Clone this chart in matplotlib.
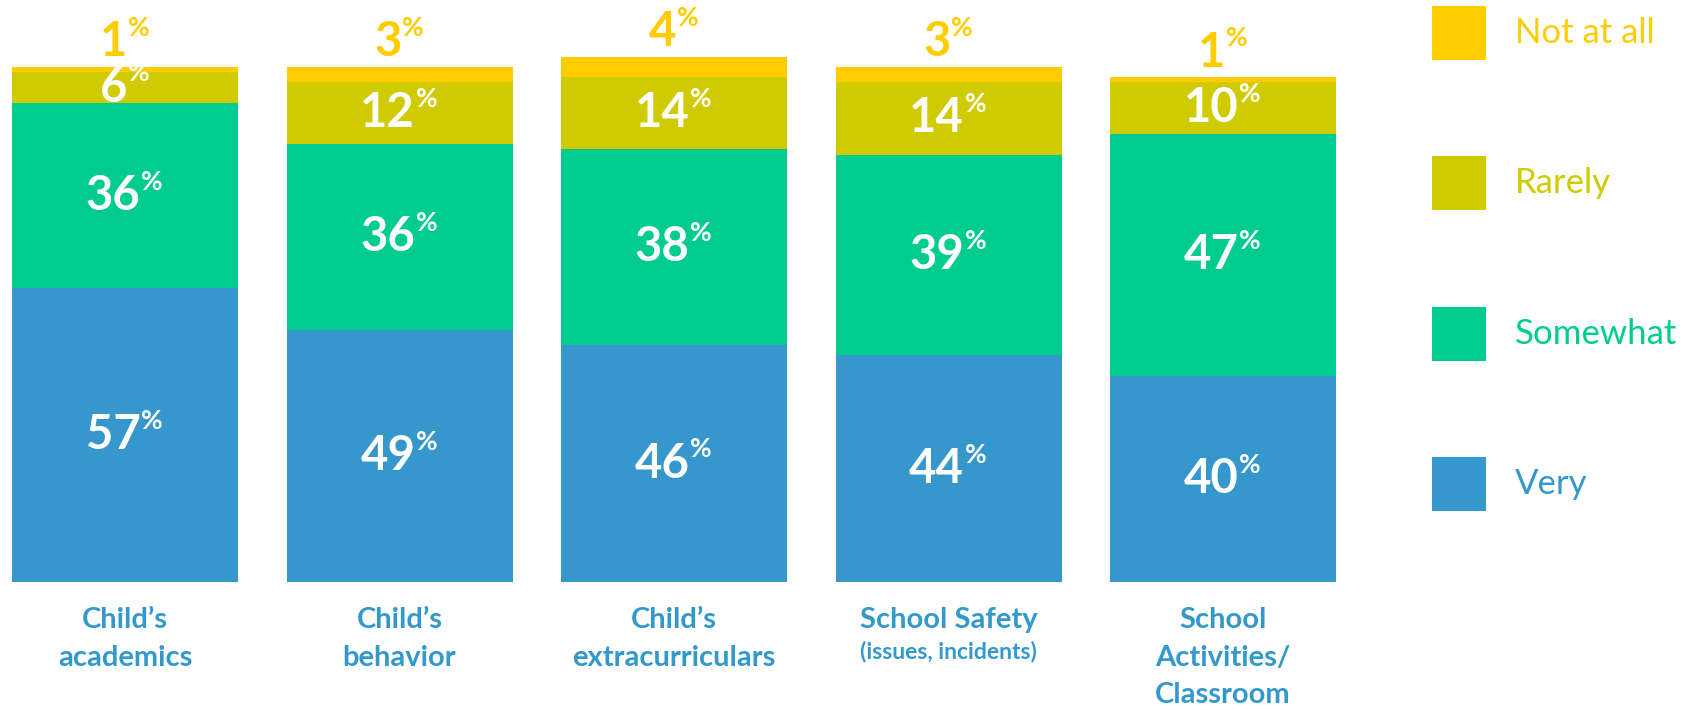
import matplotlib.pyplot as plt
import matplotlib.transforms as mtransforms
from matplotlib.patches import Rectangle

plt.rcParams['font.family'] = ['Lato', 'DejaVu Sans']

# survey shares per topic (percent)
topics = ["Child’s\nacademics", "Child’s\nbehavior", "Child’s\nextracurriculars",
          "School Safety", "School\nActivities/\nClassroom"]
topic_notes = ["", "", "", "(issues, incidents)", ""]
very = [57, 49, 46, 44, 40]
somewhat = [36, 36, 38, 39, 47]
rarely = [6, 12, 14, 14, 10]
not_at_all = [1, 3, 4, 3, 1]

series_names = ["Very", "Somewhat", "Rarely", "Not at all"]
series_vals = [very, somewhat, rarely, not_at_all]
colors = ["#3597CB", "#00CC90", "#CFCB00", "#FFCC00"]
label_blue = "#3399CC"

W, H = 1682, 710
fig = plt.figure(figsize=(W / 100, H / 100), dpi=100)

# axes in pixel-ish units: 274.5 px per category, 5.15 px per percent
pitch, x0 = 274.5, 125
ax = fig.add_axes([0, 128 / H, 1400 / W, 582 / H])
ax.set_xlim(-x0 / pitch, (1400 - x0) / pitch)
ax.set_ylim(0, 582 / 5.15)
ax.axis('off')

xs = list(range(len(topics)))
bar_w = 226 / pitch


def pct_label(x, y, value, color, dy=0, va='center'):
    t = ax.annotate(str(value), xy=(x, y), xytext=(-8.5, dy), textcoords='offset points',
                    ha='center', va=va, fontsize=34, fontweight='bold', color=color)
    ax.annotate('%', xy=(1, 1), xycoords=t, xytext=(0.5, 3), textcoords='offset points',
                ha='left', va='top', fontsize=19, fontweight='bold', color=color)


bottoms = [0] * len(xs)
for name, vals, col in zip(series_names, series_vals, colors):
    ax.bar(xs, vals, width=bar_w, bottom=bottoms, color=col, linewidth=0)
    for x, b, v in zip(xs, bottoms, vals):
        if v >= 5:
            pct_label(x, b + v / 2, v, 'white')
        else:
            # segment too thin for its label: put it just above the bar
            pct_label(x, b + v, v, col, dy=2, va='bottom')
    bottoms = [b + v for b, v in zip(bottoms, vals)]

# category labels under the bars
tr = mtransforms.blended_transform_factory(ax.transData, fig.transFigure)
for x, name, note in zip(xs, topics, topic_notes):
    ax.text(x, (H - 607) / H, name, transform=tr, ha='center', va='top',
            fontsize=21, fontweight='bold', color=label_blue, linespacing=1.55)
    if note:
        ax.text(x, (H - 641) / H, note, transform=tr, ha='center', va='top',
                fontsize=16.5, fontweight='bold', color=label_blue)

# legend, top to bottom
for i, (name, col) in enumerate(zip(series_names[::-1], colors[::-1])):
    top = 6 + 150.3 * i
    fig.add_artist(Rectangle((1432 / W, (H - top - 54) / H), 54 / W, 54 / H,
                             transform=fig.transFigure, color=col, linewidth=0))
    fig.text(1515 / W, (H - top - 27) / H, name, ha='left', va='center',
             fontsize=25, fontweight='normal', color=col)

fig.savefig('out.png', dpi=100)
